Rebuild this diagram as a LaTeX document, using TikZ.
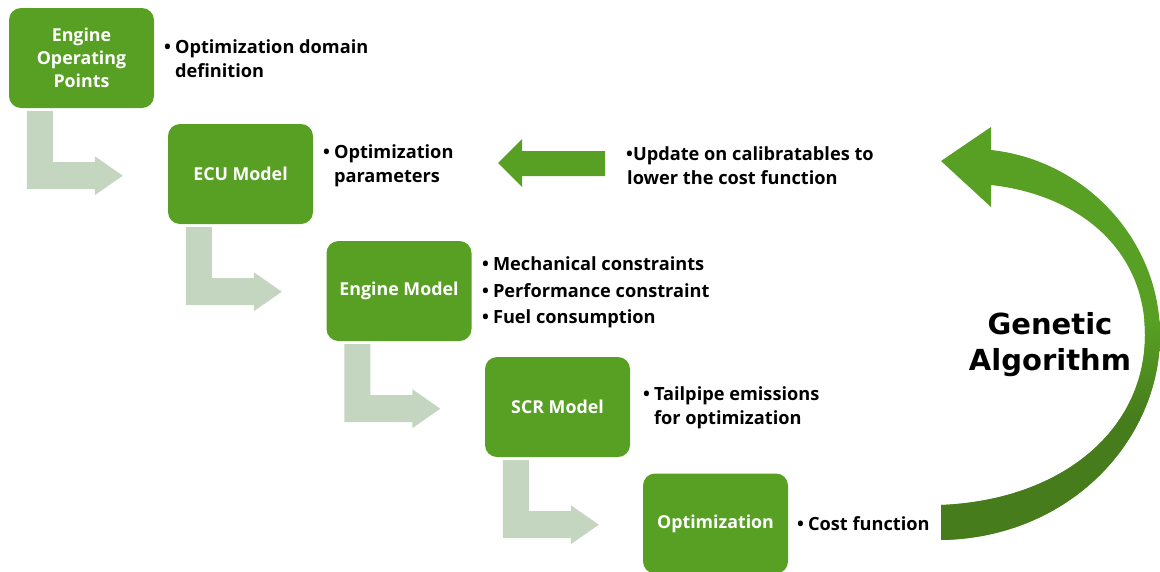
\documentclass[tikz,border=0pt]{standalone}
\usepackage{fontspec}
\setmainfont{Open Sans}
\newfontfamily\gafont{DejaVu Sans}
\definecolor{boxgreen}{RGB}{88,160,36}
\definecolor{darkgreen}{RGB}{70,124,28}
\definecolor{sage}{RGB}{197,214,192}
\tikzset{
  stage/.style={rectangle, rounded corners=12pt, fill=boxgreen, text=white,
    minimum width=145pt, minimum height=100pt, align=center,
    font=\bfseries\fontsize{17.8}{23}\selectfont},
  note/.style={anchor=west, align=left, text=black, inner sep=0pt,
    font=\bfseries\fontsize{18.2}{24}\selectfont},
  lstep/.style={fill=sage}
}
% L-shaped step arrow hanging below a stage box
\newcommand\lshape[1]{%
  \fill[lstep, shift={(#1.south west)}]
    (18,3) -- (44,3) -- (44,54) -- (86,54) -- (86,48) -- (114,67.5)
    -- (86,87) -- (86,81) -- (18,81) -- cycle;}
\newcommand\blt[1]{\begin{tabular}{@{}l@{\hspace{4pt}}l@{}}#1\end{tabular}}
\begin{document}
\begin{tikzpicture}[x=1pt,y=-1pt]
\useasboundingbox (0,0) rectangle (1160,571);

% stage boxes
\node[stage] (b1) at (81.5,58)    {Engine\\Operating\\Points};
\node[stage] (b2) at (240.5,174)  {ECU Model};
\node[stage] (b3) at (399,291)    {Engine Model};
\node[stage] (b4) at (557.5,407)  {SCR Model};
\node[stage] (b5) at (715.5,523.5){Optimization};

% step arrows between stages
\lshape{b1}
\lshape{b2}
\lshape{b3}
\lshape{b4}

% bullet notes
\node[note] (t1) at (164,61)  {\blt{\textbullet & Optimization domain\\ & definition}};
\node[note] (t2) at (323,166) {\blt{\textbullet & Optimization\\ & parameters}};
\node[note] (t3) at (482,292.5) {\blt{\textbullet & Mechanical constraints\\[2.5pt]
  \textbullet & Performance constraint\\[2.5pt] \textbullet & Fuel consumption}};
\node[note] (t4) at (643,408) {\blt{\textbullet & Tailpipe emissions\\ & for optimization}};
\node[note] (t5) at (797,526) {\blt{\textbullet & Cost function}};
\node[note] (t6) at (626,166) {\textbullet Update on calibratables to\\\hspace*{1pt}lower the cost function};

% feedback arrow
\fill[boxgreen] (605,151) -- (522,151) -- (522,139) -- (498,163)
  -- (522,187) -- (522,176) -- (605,176) -- cycle;

% curved genetic-algorithm arrow
\def\gapath{(991,150) .. controls (1085,160) and (1160,240) .. (1160,335)
  .. controls (1160,440) and (1070,538) .. (941,540)
  -- (941,505) .. controls (1062,500) and (1145,430) .. (1145,335)
  .. controls (1145,250) and (1080,195) .. (991,185)
  -- (991,207) -- (941,161) -- (991,127) -- cycle}
\fill[boxgreen] \gapath;
\begin{scope}
  \clip \gapath;
  \shade[top color=boxgreen, bottom color=darkgreen] (900,320) rectangle (1170,420);
  \fill[darkgreen] (900,419.5) rectangle (1170,560);
\end{scope}

\node[align=center, font=\gafont\bfseries\fontsize{29}{36}\selectfont] (ga) at (1050,345) {Genetic\\Algorithm};
\end{tikzpicture}
\end{document}
